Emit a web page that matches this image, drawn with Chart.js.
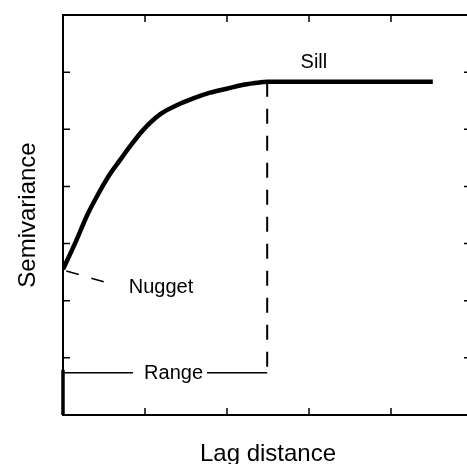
<!DOCTYPE html>
<html>
<head>
<meta charset="utf-8">
<script src="https://cdn.jsdelivr.net/npm/chart.js@4"></script>
<style>
	html, body { margin: 0; padding: 0; background: #fff; overflow: hidden; }
	body { width: 467px; height: 464px; }
</style>
</head>
<body>
<!-- the plot frame runs a few pixels past the right edge of the window, as in the figure -->
<canvas id="variogram" width="476" height="464"></canvas>
<script>
// model curve (lag distance vs semivariance)
var lagDistance = [0, 0.155, 0.296, 0.423, 0.565, 0.695, 0.817, 0.979, 1.183, 1.387, 1.589, 1.793, 1.996, 2.199, 2.40, 2.49, 4.51];
var semivariance = [2.55, 3.03, 3.50, 3.85, 4.20, 4.46, 4.70, 4.99, 5.26, 5.42, 5.54, 5.64, 5.71, 5.78, 5.82, 5.83, 5.83];

// markers
var rangeLag = 2.49;
var sillValue = 5.83;
var rangeBarLevel = 0.74;
var rangeBarLeft = [0, 0.854];
var rangeBarRight = [1.756, 2.49];
var nuggetPointerX = [0.04, 0.55];
var nuggetPointerY = [2.52, 2.31];
var axisStubTop = 0.79;

// text labels, in data units
var labelText = ['Sill', 'Nugget', 'Range'];
var labelX = [3.06, 1.195, 1.348];
var labelY = [6.17, 2.23, 0.726];

function pts(xs, ys) {
	return xs.map(function(v, i) { return {x: v, y: ys[i]}; });
}

// small ticks pointing into the plot on all four sides
var innerTicks = {
	id: 'innerTicks',
	afterDraw: function(chart) {
		var ctx = chart.ctx, a = chart.chartArea;
		var xs = chart.scales.x, ys = chart.scales.y;
		ctx.save();
		ctx.strokeStyle = '#000';
		ctx.lineWidth = 1.5;
		ctx.beginPath();
		xs.ticks.forEach(function(t) {
			if (t.value <= xs.min || t.value >= xs.max) return;
			var px = xs.getPixelForValue(t.value);
			ctx.moveTo(px, a.top); ctx.lineTo(px, a.top + 7);
			ctx.moveTo(px, a.bottom); ctx.lineTo(px, a.bottom - 7);
		});
		ys.ticks.forEach(function(t) {
			if (t.value <= ys.min || t.value >= ys.max) return;
			var py = ys.getPixelForValue(t.value);
			ctx.moveTo(a.left, py); ctx.lineTo(a.left + 7, py);
			ctx.moveTo(a.right, py); ctx.lineTo(a.right - 9, py);
		});
		ctx.stroke();

		// Sill / Nugget / Range
		ctx.fillStyle = '#000';
		ctx.font = '20px "Liberation Sans", Arial, sans-serif';
		ctx.textAlign = 'center';
		ctx.textBaseline = 'middle';
		labelText.forEach(function(s, i) {
			ctx.fillText(s, xs.getPixelForValue(labelX[i]), ys.getPixelForValue(labelY[i]));
		});
		ctx.restore();
	}
};

var noGrid = { display: false, drawTicks: false };
var titleFont = { family: '"Liberation Sans", Arial, sans-serif', size: 24, lineHeight: '20px' };

var ctx = document.getElementById('variogram').getContext('2d');
var chart = new Chart(ctx, {
	type: 'line',
	data: {
		datasets: [{
			// variogram model
			data: pts(lagDistance, semivariance),
			borderColor: '#000',
			borderWidth: 4.5,
			cubicInterpolationMode: 'monotone'
		}, {
			// range, dashed drop line
			data: pts([rangeLag, rangeLag], [sillValue, rangeBarLevel]),
			borderColor: '#000',
			borderWidth: 2,
			borderDash: [15, 12]
		}, {
			// range bar, broken for its label
			data: pts([rangeBarLeft[0], rangeBarLeft[1], 1.3, rangeBarRight[0], rangeBarRight[1]],
				[rangeBarLevel, rangeBarLevel, null, rangeBarLevel, rangeBarLevel]),
			borderColor: '#000',
			borderWidth: 1.5,
			spanGaps: false
		}, {
			// nugget pointer
			data: pts(nuggetPointerX, nuggetPointerY),
			borderColor: '#000',
			borderWidth: 1.5,
			borderDash: [13, 13]
		}, {
			// heavy stub on the y axis below the range bar
			data: pts([0, 0], [0, axisStubTop]),
			borderColor: '#000',
			borderWidth: 3.5,
			clip: false
		}]
	},
	options: {
		responsive: false,
		animation: false,
		layout: { padding: { left: 18.5, top: 15, right: 3, bottom: 0 } },
		elements: { point: { radius: 0 } },
		plugins: { legend: { display: false }, tooltip: { enabled: false } },
		scales: {
			x: {
				type: 'linear', position: 'bottom', min: 0, max: 5,
				ticks: { display: false, stepSize: 1 },
				grid: noGrid,
				border: { color: '#000', width: 2 },
				title: {
					display: true, text: 'Lag distance', color: '#000',
					font: titleFont,
					padding: { top: 29, bottom: 0 }
				}
			},
			y: {
				type: 'linear', position: 'left', min: 0, max: 7,
				ticks: { display: false, stepSize: 1 },
				grid: noGrid,
				border: { color: '#000', width: 2 },
				title: {
					display: true, text: 'Semivariance', color: '#000',
					font: titleFont,
					padding: { top: 0, bottom: 24.5 }
				}
			},
			x2: {
				type: 'linear', position: 'top', min: 0, max: 5,
				ticks: { display: false },
				grid: noGrid,
				border: { color: '#000', width: 2 }
			},
			y2: {
				type: 'linear', position: 'right', min: 0, max: 7,
				ticks: { display: false },
				grid: noGrid,
				border: { color: '#000', width: 2 }
			}
		}
	},
	plugins: [innerTicks]
});
</script>
</body>
</html>
